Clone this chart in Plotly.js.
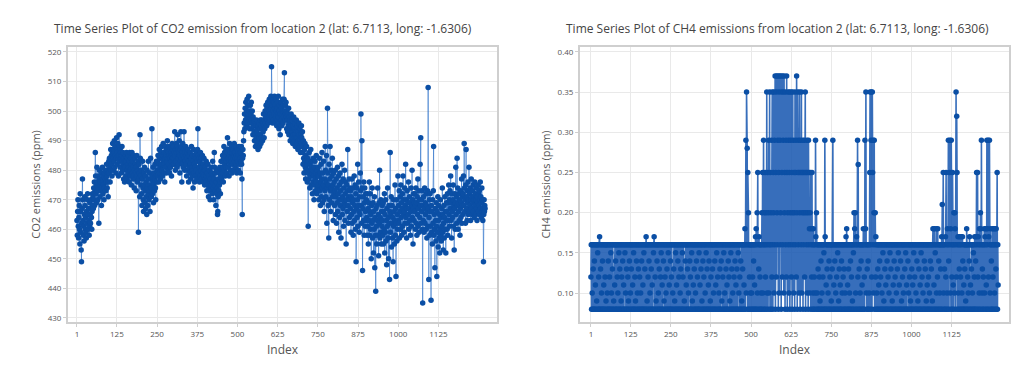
<!DOCTYPE html>
<html>
<head>
<meta charset="utf-8">
<script src="https://cdn.plot.ly/plotly-3.0.1.min.js"></script>
<style>html,body{margin:0;padding:0;background:#fff;}#chart{width:1019px;height:367px;}</style>
</head>
<body>
<div id="chart"></div>
<script>
// CO2 emissions (ppm), location 2, by index
const co2 = [
463,458,466,470,461,457,464,468,460,455,472,466,459,453,449,462,467,477,470,463,458,461,456,465,471,468,460,464,459,457,466,462,470,472,465,460,467,463,458,461,469,465,462,470,467,464,460,466,472,468,
471,467,474,470,476,468,473,486,478,472,475,469,481,476,473,470,478,474,462,477,480,475,471,476,473,479,468,474,477,481,476,472,478,475,470,474,479,476,480,477,473,476,482,478,474,480,476,471,479,483,
479,484,481,476,483,487,480,485,482,478,486,489,484,480,487,483,490,486,481,488,485,479,484,491,487,482,486,489,484,478,485,492,488,483,487,481,486,484,479,485,488,483,480,486,482,477,484,481,476,483,
481,485,478,483,486,480,477,484,482,479,485,481,476,483,486,480,478,484,481,475,482,486,479,483,477,481,485,478,474,480,484,477,482,479,473,481,485,478,476,480,483,459,477,482,479,471,492,484,478,475,
480,472,468,477,483,474,470,466,479,475,481,469,473,478,467,476,471,465,480,474,468,477,483,472,470,475,479,466,473,484,477,471,474,494,478,472,476,481,469,475,479,473,477,482,474,470,478,483,476,480,
483,478,485,480,476,482,487,479,484,481,477,486,482,488,480,484,478,485,489,483,479,486,482,476,484,488,481,485,479,487,483,490,484,480,486,482,488,485,479,484,487,481,486,483,478,485,489,484,482,487,
484,488,482,486,493,485,480,487,483,489,486,481,488,492,484,487,482,486,490,485,479,487,483,493,488,484,476,486,482,489,485,481,487,493,484,480,486,483,488,485,482,478,486,484,480,487,483,476,485,481,
483,479,486,482,477,484,488,481,478,485,480,474,483,487,479,482,476,485,481,478,484,480,486,477,483,487,494,485,479,484,481,476,483,478,486,482,480,484,477,481,485,479,476,482,478,484,480,475,481,477,
480,476,483,478,473,479,475,482,477,471,478,474,480,476,470,477,473,481,475,479,472,476,483,478,474,470,477,486,481,475,479,473,468,476,472,480,474,465,466,471,477,473,479,475,481,476,472,478,483,480,
477,483,479,485,481,476,484,488,480,486,482,478,485,481,487,483,479,486,491,484,481,487,483,478,485,489,482,486,480,484,488,483,479,486,482,487,484,480,485,489,483,486,481,484,488,482,485,479,484,487,
483,486,480,485,488,482,487,484,479,486,483,488,482,477,465,484,487,485,490,493,496,499,494,501,497,503,499,495,500,504,498,496,502,499,505,497,500,494,498,502,496,499,503,497,494,500,496,492,498,495,
497,493,490,496,492,488,495,491,497,493,489,494,490,487,495,492,496,491,488,494,497,492,489,495,491,497,494,490,496,493,499,495,491,497,494,500,496,498,502,499,495,501,497,503,499,496,502,498,504,500,
497,503,499,505,501,515,498,502,496,504,500,497,503,499,505,501,496,502,498,504,500,495,501,497,503,499,505,498,494,500,502,496,492,499,503,497,501,495,499,504,500,496,502,498,504,513,500,497,502,499,
503,498,494,500,497,493,499,495,501,492,496,498,494,490,497,493,499,495,491,497,493,489,495,492,498,494,490,496,492,488,494,491,497,493,489,495,491,487,493,490,496,492,488,494,490,486,492,489,495,491,
488,493,486,482,490,484,479,487,483,489,481,477,485,480,488,482,476,484,479,461,483,477,486,480,474,482,478,487,481,475,483,479,472,480,476,484,478,470,481,475,483,477,473,479,485,476,472,480,474,478,
481,475,470,478,484,473,479,468,476,482,471,477,486,474,469,479,475,483,470,466,477,473,488,480,471,476,485,462,474,501,479,468,475,457,482,470,477,488,473,466,480,474,469,478,484,471,475,463,479,472,
476,468,473,480,465,471,477,462,474,469,481,466,472,478,459,470,475,464,479,468,473,457,476,470,482,465,471,467,477,461,474,469,480,463,472,468,476,455,470,475,466,473,487,468,462,471,477,464,470,474,
467,473,459,471,465,477,462,469,474,458,470,466,478,463,468,475,460,472,449,467,474,464,470,482,461,468,476,466,459,471,465,479,473,499,468,462,490,474,446,467,471,463,476,458,469,474,461,466,472,463,
470,464,458,472,461,467,455,469,463,476,458,466,472,460,465,450,468,462,474,457,463,469,452,466,460,471,447,464,458,439,467,461,455,468,463,474,458,465,451,469,462,480,457,464,459,470,455,466,461,468,
463,458,469,455,466,460,472,452,465,459,470,456,463,448,467,461,474,457,464,450,468,462,443,466,486,459,465,471,454,462,468,457,464,449,470,461,466,455,463,475,458,467,444,462,470,456,465,460,478,463,
468,462,473,457,466,471,460,475,464,469,458,467,472,461,478,465,470,459,466,474,462,468,482,464,470,457,467,473,462,469,465,476,460,467,471,463,469,458,466,474,461,468,480,464,470,455,467,472,463,469,
466,472,460,468,474,462,469,458,471,465,477,461,467,473,459,470,464,482,468,491,462,470,466,473,460,435,468,463,471,459,467,474,462,469,465,472,460,468,457,466,473,461,508,467,443,464,470,458,472,466,
461,436,468,459,466,455,470,462,473,488,458,465,460,447,467,463,456,469,461,444,466,459,471,454,463,468,457,465,452,460,470,458,464,456,467,461,474,459,465,453,462,468,457,464,471,460,466,452,463,469,
466,460,472,458,469,463,475,465,470,461,473,467,478,463,469,457,472,466,464,470,475,461,468,453,467,472,460,469,481,465,471,462,484,468,474,460,469,466,472,463,470,458,467,473,464,469,477,462,468,471,
465,472,478,468,489,474,466,470,462,475,487,467,471,463,473,469,476,465,470,481,466,472,468,474,463,470,477,467,471,465,473,469,475,466,471,464,470,476,468,472,465,470,474,467,463,471,469,475,466,472,
468,473,465,470,476,467,471,464,469,474,466,470,463,467,449,465,470,466,468,467
];

// CH4 emissions (ppm), location 2, by index
const ch4 = [
0.12,0.16,0.08,0.16,0.10,0.08,0.16,0.13,0.08,0.16,0.08,0.14,0.16,0.08,0.11,0.16,0.08,0.16,0.09,0.16,0.08,0.15,0.16,0.08,0.12,0.16,0.08,0.17,0.08,0.16,0.13,0.08,0.16,0.10,0.08,0.16,0.14,0.08,0.16,0.08,0.11,0.16,0.08,0.16,0.12,0.08,0.16,0.09,0.16,0.08,
0.16,0.10,0.08,0.16,0.14,0.08,0.16,0.08,0.12,0.16,0.08,0.16,0.15,0.08,0.10,0.16,0.08,0.13,0.16,0.08,0.16,0.09,0.08,0.16,0.11,0.16,0.08,0.14,0.16,0.08,0.16,0.08,0.12,0.16,0.10,0.08,0.16,0.15,0.08,0.16,0.13,0.08,0.16,0.08,0.09,0.16,0.12,0.08,0.16,0.14,
0.08,0.16,0.11,0.08,0.16,0.08,0.15,0.16,0.10,0.08,0.16,0.13,0.08,0.16,0.08,0.12,0.16,0.09,0.08,0.16,0.14,0.08,0.16,0.10,0.16,0.08,0.13,0.16,0.08,0.16,0.11,0.08,0.16,0.15,0.08,0.16,0.08,0.12,0.16,0.09,0.08,0.16,0.14,0.16,0.08,0.10,0.16,0.08,0.13,0.16,
0.08,0.16,0.12,0.08,0.16,0.10,0.08,0.16,0.14,0.08,0.16,0.08,0.11,0.16,0.08,0.15,0.16,0.08,0.13,0.16,0.08,0.16,0.17,0.08,0.16,0.09,0.08,0.16,0.12,0.16,0.08,0.14,0.16,0.08,0.10,0.16,0.08,0.16,0.13,0.08,0.16,0.11,0.08,0.16,0.08,0.15,0.16,0.17,0.08,0.16,
0.12,0.08,0.16,0.09,0.16,0.08,0.14,0.16,0.08,0.16,0.10,0.08,0.16,0.13,0.08,0.16,0.08,0.12,0.16,0.15,0.08,0.16,0.11,0.08,0.16,0.08,0.14,0.16,0.09,0.08,0.16,0.12,0.16,0.08,0.10,0.16,0.08,0.13,0.16,0.08,0.16,0.15,0.08,0.16,0.11,0.08,0.16,0.08,0.14,0.16,
0.08,0.12,0.16,0.08,0.16,0.10,0.08,0.16,0.13,0.16,0.08,0.09,0.16,0.08,0.15,0.16,0.08,0.11,0.16,0.08,0.16,0.14,0.08,0.16,0.12,0.08,0.16,0.08,0.10,0.16,0.13,0.08,0.16,0.08,0.16,0.15,0.08,0.12,0.16,0.08,0.16,0.09,0.08,0.16,0.14,0.16,0.08,0.11,0.16,0.08,
0.16,0.13,0.08,0.16,0.10,0.08,0.16,0.08,0.14,0.16,0.12,0.08,0.16,0.08,0.15,0.16,0.09,0.08,0.16,0.11,0.16,0.08,0.13,0.16,0.08,0.16,0.10,0.08,0.16,0.14,0.08,0.16,0.12,0.16,0.08,0.08,0.16,0.15,0.08,0.16,0.11,0.08,0.16,0.13,0.16,0.08,0.09,0.16,0.08,0.14,
0.16,0.08,0.12,0.16,0.08,0.16,0.10,0.08,0.16,0.15,0.08,0.16,0.13,0.08,0.16,0.08,0.11,0.16,0.14,0.08,0.16,0.08,0.09,0.16,0.12,0.08,0.16,0.16,0.08,0.13,0.16,0.08,0.10,0.16,0.08,0.16,0.14,0.08,0.16,0.11,0.08,0.16,0.15,0.16,0.08,0.12,0.16,0.08,0.16,0.10,
0.08,0.16,0.13,0.08,0.16,0.08,0.14,0.16,0.09,0.08,0.16,0.12,0.16,0.08,0.15,0.16,0.08,0.10,0.16,0.08,0.16,0.13,0.08,0.16,0.11,0.08,0.16,0.08,0.14,0.16,0.12,0.08,0.16,0.09,0.16,0.08,0.15,0.16,0.08,0.13,0.16,0.08,0.10,0.16,0.08,0.16,0.12,0.08,0.16,0.14,
0.08,0.16,0.11,0.08,0.16,0.13,0.08,0.16,0.08,0.15,0.16,0.10,0.08,0.16,0.12,0.16,0.08,0.14,0.08,0.16,0.09,0.16,0.08,0.13,0.16,0.08,0.16,0.11,0.08,0.16,0.18,0.08,0.16,0.29,0.10,0.35,0.16,0.28,0.08,0.25,0.16,0.20,0.08,0.16,0.12,0.08,0.16,0.10,0.16,0.08,
0.16,0.10,0.08,0.16,0.12,0.08,0.16,0.14,0.08,0.16,0.11,0.08,0.16,0.17,0.08,0.18,0.16,0.08,0.20,0.10,0.25,0.08,0.16,0.13,0.17,0.08,0.16,0.12,0.08,0.16,0.10,0.08,0.16,0.20,0.08,0.25,0.10,0.16,0.29,0.08,0.20,0.16,0.08,0.25,0.12,0.16,0.20,0.08,0.35,0.10,
0.16,0.25,0.08,0.20,0.29,0.10,0.16,0.35,0.08,0.25,0.16,0.20,0.08,0.29,0.12,0.35,0.16,0.08,0.25,0.20,0.35,0.10,0.29,0.16,0.37,0.08,0.25,0.35,0.12,0.37,0.20,0.16,0.29,0.37,0.08,0.25,0.35,0.10,0.37,0.29,0.16,0.20,0.37,0.08,0.35,0.25,0.12,0.37,0.16,0.29,
0.35,0.10,0.37,0.20,0.25,0.08,0.35,0.16,0.29,0.12,0.37,0.25,0.08,0.20,0.35,0.16,0.29,0.10,0.25,0.35,0.08,0.20,0.16,0.29,0.35,0.12,0.25,0.08,0.20,0.35,0.16,0.29,0.10,0.25,0.20,0.08,0.35,0.16,0.25,0.29,0.12,0.37,0.20,0.08,0.35,0.25,0.16,0.29,0.10,0.25,
0.35,0.20,0.08,0.29,0.25,0.16,0.35,0.10,0.25,0.20,0.29,0.08,0.25,0.16,0.20,0.29,0.12,0.25,0.35,0.08,0.20,0.25,0.16,0.29,0.10,0.25,0.20,0.08,0.29,0.16,0.25,0.18,0.10,0.20,0.25,0.08,0.16,0.18,0.12,0.25,0.08,0.16,0.10,0.18,0.08,0.16,0.12,0.08,0.16,0.10,
0.29,0.17,0.08,0.20,0.16,0.10,0.08,0.16,0.13,0.08,0.16,0.08,0.12,0.16,0.09,0.08,0.16,0.14,0.08,0.16,0.10,0.08,0.16,0.12,0.16,0.08,0.15,0.16,0.08,0.29,0.17,0.08,0.16,0.11,0.08,0.16,0.13,0.08,0.16,0.10,0.16,0.08,0.14,0.16,0.08,0.12,0.16,0.08,0.16,0.09,
0.16,0.08,0.13,0.16,0.29,0.08,0.16,0.11,0.08,0.16,0.14,0.08,0.16,0.10,0.16,0.08,0.12,0.16,0.08,0.15,0.16,0.08,0.09,0.16,0.13,0.08,0.16,0.11,0.08,0.16,0.08,0.14,0.16,0.10,0.08,0.16,0.12,0.16,0.08,0.13,0.16,0.08,0.10,0.16,0.08,0.17,0.16,0.18,0.08,0.16,
0.11,0.08,0.16,0.13,0.08,0.16,0.10,0.08,0.16,0.14,0.08,0.16,0.12,0.16,0.08,0.09,0.16,0.08,0.15,0.16,0.20,0.08,0.18,0.16,0.20,0.10,0.08,0.16,0.17,0.08,0.16,0.29,0.12,0.26,0.08,0.16,0.13,0.08,0.16,0.10,0.08,0.16,0.14,0.16,0.08,0.11,0.16,0.08,0.16,0.18,
0.08,0.16,0.12,0.08,0.29,0.16,0.18,0.35,0.10,0.16,0.08,0.13,0.16,0.08,0.14,0.16,0.08,0.10,0.16,0.25,0.35,0.08,0.16,0.29,0.35,0.12,0.08,0.35,0.25,0.16,0.29,0.10,0.20,0.29,0.08,0.16,0.20,0.12,0.17,0.08,0.16,0.10,0.08,0.16,0.13,0.08,0.16,0.11,0.16,0.08,
0.14,0.16,0.08,0.12,0.16,0.08,0.16,0.10,0.08,0.16,0.15,0.08,0.16,0.09,0.16,0.08,0.13,0.16,0.08,0.11,0.16,0.08,0.16,0.14,0.08,0.16,0.12,0.08,0.16,0.10,0.16,0.08,0.15,0.16,0.08,0.13,0.16,0.08,0.16,0.09,0.08,0.16,0.11,0.16,0.08,0.14,0.16,0.08,0.12,0.16,
0.08,0.16,0.10,0.08,0.16,0.13,0.16,0.08,0.15,0.16,0.08,0.11,0.16,0.08,0.16,0.14,0.08,0.16,0.09,0.08,0.16,0.12,0.16,0.08,0.10,0.16,0.08,0.16,0.13,0.08,0.16,0.15,0.08,0.16,0.11,0.08,0.16,0.08,0.14,0.16,0.10,0.08,0.16,0.12,0.16,0.08,0.09,0.16,0.08,0.16,
0.13,0.08,0.16,0.11,0.08,0.16,0.15,0.16,0.08,0.12,0.16,0.08,0.16,0.10,0.08,0.16,0.14,0.08,0.16,0.09,0.16,0.08,0.13,0.16,0.08,0.16,0.11,0.08,0.16,0.15,0.08,0.16,0.12,0.16,0.08,0.10,0.16,0.08,0.16,0.14,0.08,0.16,0.13,0.08,0.16,0.09,0.16,0.08,0.11,0.16,
0.08,0.16,0.12,0.08,0.16,0.10,0.08,0.16,0.14,0.16,0.08,0.13,0.16,0.08,0.09,0.16,0.18,0.08,0.16,0.11,0.18,0.08,0.16,0.15,0.08,0.16,0.18,0.10,0.08,0.16,0.12,0.18,0.08,0.16,0.14,0.08,0.16,0.10,0.16,0.08,0.13,0.16,0.08,0.17,0.16,0.21,0.08,0.16,0.25,0.10,
0.16,0.08,0.13,0.16,0.08,0.17,0.12,0.25,0.08,0.16,0.10,0.18,0.08,0.16,0.29,0.14,0.08,0.25,0.16,0.29,0.10,0.18,0.08,0.29,0.16,0.12,0.08,0.25,0.16,0.11,0.08,0.20,0.16,0.10,0.20,0.18,0.08,0.16,0.35,0.12,0.32,0.25,0.08,0.16,0.17,0.10,0.08,0.16,0.13,0.17,
0.08,0.16,0.12,0.08,0.17,0.16,0.10,0.08,0.17,0.14,0.08,0.16,0.11,0.08,0.16,0.13,0.08,0.16,0.09,0.16,0.08,0.18,0.16,0.08,0.12,0.16,0.10,0.08,0.16,0.14,0.17,0.08,0.16,0.11,0.08,0.16,0.13,0.16,0.08,0.10,0.16,0.08,0.15,0.16,0.08,0.12,0.17,0.08,0.16,0.14,
0.08,0.17,0.25,0.16,0.08,0.25,0.12,0.17,0.08,0.16,0.10,0.18,0.08,0.16,0.20,0.18,0.08,0.29,0.16,0.10,0.13,0.08,0.16,0.12,0.08,0.16,0.18,0.10,0.17,0.08,0.16,0.18,0.11,0.08,0.29,0.16,0.18,0.08,0.29,0.12,0.17,0.08,0.29,0.16,0.10,0.18,0.08,0.16,0.14,0.08,
0.16,0.18,0.08,0.12,0.16,0.18,0.08,0.16,0.10,0.18,0.08,0.16,0.13,0.18,0.08,0.16,0.25,0.08,0.16,0.11
];

const xTickVals = [1, 125, 250, 375, 500, 625, 750, 875, 1000, 1125];
const co2TickVals = [430, 440, 450, 460, 470, 480, 490, 500, 510, 520];
const ch4TickVals = [0.10, 0.15, 0.20, 0.25, 0.30, 0.35, 0.40];

const titleCO2 = 'Time Series Plot of CO2 emission from location 2 (lat: 6.7113, long: -1.6306)';
const titleCH4 = 'Time Series Plot of CH4 emissions from location 2 (lat: 6.7113, long: -1.6306)';

const idxCO2 = co2.map((_, i) => i + 1);
const idxCH4 = ch4.map((_, i) => i + 1);

const markerColor = '#0b4fa5';
const fontFam = '"Open Sans", "Noto Sans", sans-serif';

const traces = [
  {x: idxCO2, y: co2, xaxis: 'x', yaxis: 'y', type: 'scatter', mode: 'lines+markers',
   line: {color: 'rgba(40,110,200,0.6)', width: 1},
   marker: {color: markerColor, size: 5.5}},
  {x: idxCH4, y: ch4, xaxis: 'x2', yaxis: 'y2', type: 'scatter', mode: 'lines+markers',
   line: {color: 'rgba(20,85,175,0.85)', width: 1.6},
   marker: {color: markerColor, size: 5.5}}
];

const axBase = {
  showgrid: true, gridcolor: '#e9e9e9', gridwidth: 1, zeroline: false,
  showline: true, mirror: true, linecolor: '#cfcfcf', linewidth: 2,
  ticks: 'outside', ticklen: 3, tickcolor: '#cfcfcf',
  tickfont: {family: fontFam, size: 8, color: '#555'}
};

const layout = {
  width: 1019, height: 367,
  margin: {l: 0, r: 0, t: 0, b: 0},
  paper_bgcolor: '#fff', plot_bgcolor: '#fff',
  showlegend: false,
  font: {family: fontFam, color: '#444'},
  xaxis: Object.assign({}, axBase, {domain: [0.0667, 0.4877], range: [-27, 1307],
    tickvals: xTickVals, ticktext: xTickVals.map(String), anchor: 'y',
    title: {text: 'Index', font: {family: fontFam, size: 12, color: '#555'}, standoff: 8}}),
  yaxis: Object.assign({}, axBase, {domain: [0.1226, 0.872], range: [428.6, 521.7],
    tickvals: co2TickVals, anchor: 'x',
    title: {text: 'CO2 emissions (ppm)', font: {family: fontFam, size: 11, color: '#555'}, standoff: 5}}),
  xaxis2: Object.assign({}, axBase, {domain: [0.5692, 0.9902], range: [-33, 1304],
    tickvals: xTickVals, ticktext: xTickVals.map(String), anchor: 'y2',
    title: {text: 'Index', font: {family: fontFam, size: 12, color: '#555'}, standoff: 8}}),
  yaxis2: Object.assign({}, axBase, {domain: [0.1226, 0.872], range: [0.064, 0.406],
    tickvals: ch4TickVals, tickformat: '.2f', anchor: 'x2',
    title: {text: 'CH4 emissions (ppm)', font: {family: fontFam, size: 11, color: '#555'}, standoff: 5}}),
  annotations: [
    {text: titleCO2, xref: 'paper', yref: 'paper', x: 263 / 1019, y: 1 - 29 / 367,
     xanchor: 'center', yanchor: 'middle', showarrow: false,
     font: {family: fontFam, size: 12, color: '#444'}},
    {text: titleCH4, xref: 'paper', yref: 'paper', x: 777 / 1019, y: 1 - 29 / 367,
     xanchor: 'center', yanchor: 'middle', showarrow: false,
     font: {family: fontFam, size: 12, color: '#444'}}
  ]
};

Plotly.newPlot('chart', traces, layout, {displayModeBar: false, staticPlot: true});
</script>
</body>
</html>
